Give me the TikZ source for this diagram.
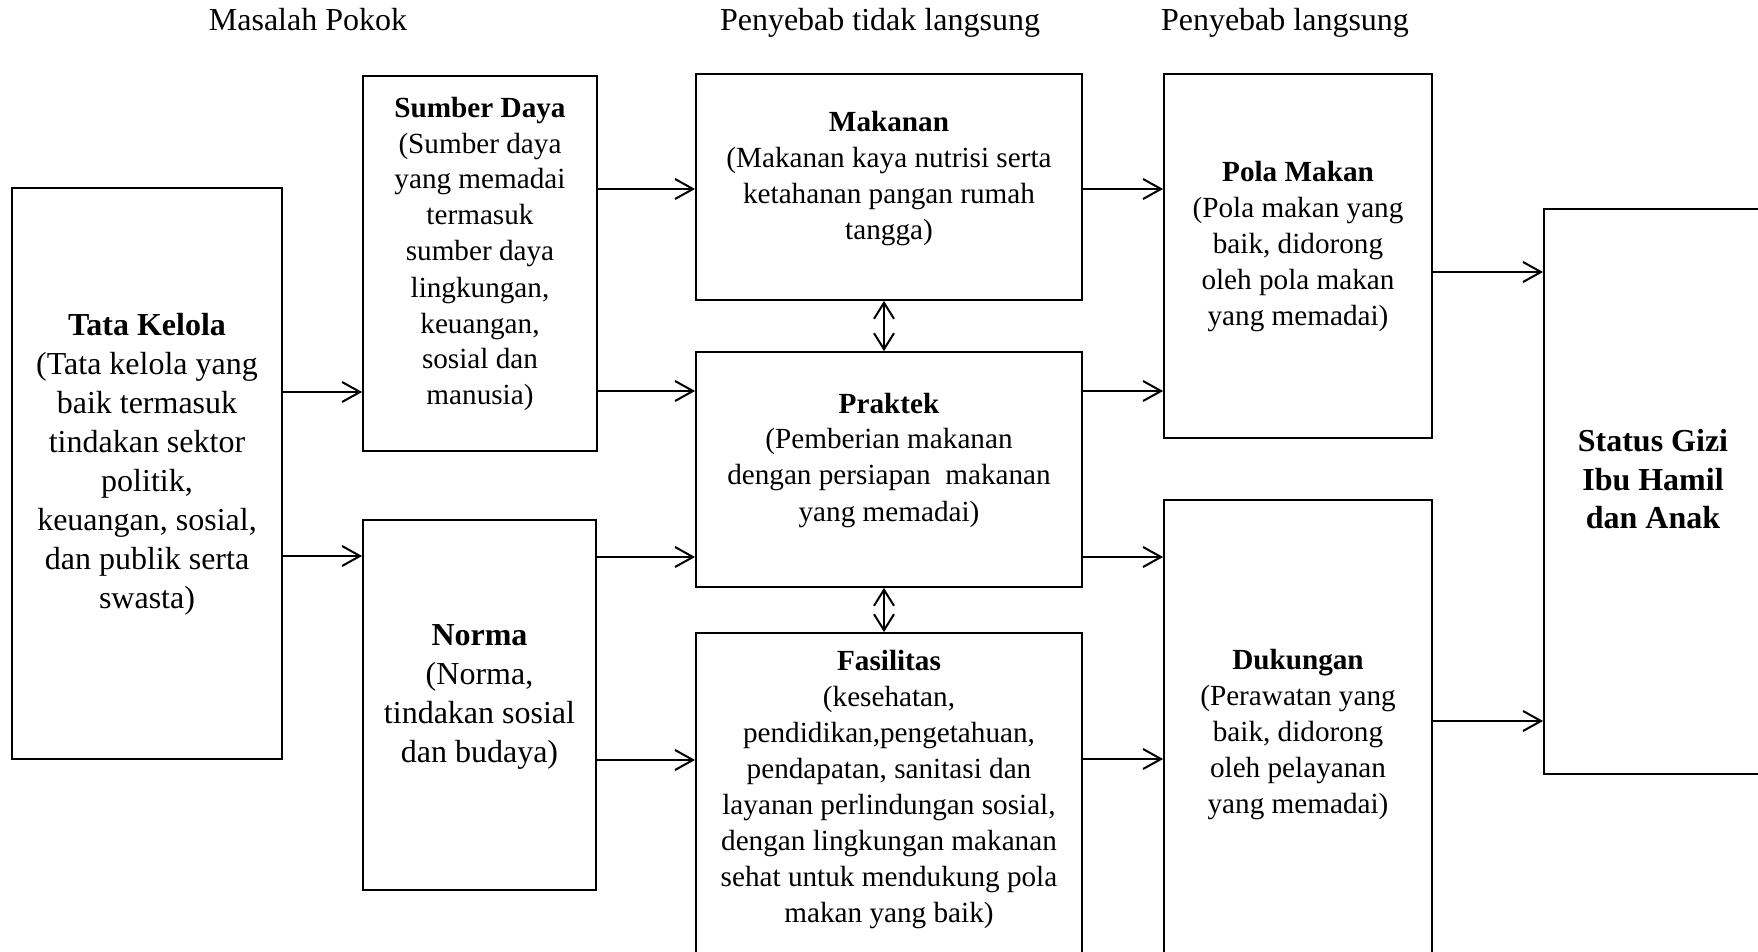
\documentclass[tikz,border=0pt]{standalone}
\usepackage{fontspec}
\setmainfont{Liberation Serif}
\usetikzlibrary{arrows.meta,fit}
\begin{document}
\begin{tikzpicture}[x=0.5pt,y=-0.5pt,
  box/.style={draw, line width=0.9pt, inner sep=0pt},
  txt/.style={align=center, inner sep=0pt, font=\fontsize{14.6}{18}\selectfont},
  bigtxt/.style={align=center, inner sep=0pt, font=\fontsize{16}{19.5}\selectfont},
  head/.style={anchor=base, inner sep=0pt, font=\fontsize{16}{19.5}\selectfont},
  arr/.style={line width=1pt, -{Straight Barb[length=9pt,width=10pt]}},
  darr/.style={line width=1pt, {Straight Barb[length=8pt,width=10pt]}-{Straight Barb[length=8pt,width=10pt]}}]
\path[use as bounding box] (0,0) rectangle (1758,952);
\clip (0,0) rectangle (1758,952);

% headers
\node[head] (h1) at (308,31) {Masalah Pokok};
\node[head] (h2) at (880,31) {Penyebab tidak langsung};
\node[head] (h3) at (1285,31) {Penyebab langsung};

% boxes
\node[box, fit={(12,188)(282,759)}] (tk) {};
\node[box, fit={(363,76)(597,451)}] (sd) {};
\node[box, fit={(363,520)(596,890)}] (nm) {};
\node[box, fit={(696,74)(1082,300)}] (mk) {};
\node[box, fit={(696,352)(1082,587)}] (pr) {};
\node[box, fit={(696,633)(1082,975)}] (fs) {};
\node[box, fit={(1164,74)(1432,438)}] (pm) {};
\node[box, fit={(1164,500)(1432,975)}] (dk) {};
\node[box, fit={(1544,209)(1764,774)}] (sg) {};

% texts
\node[bigtxt] (tkT) at (147,463.7) {\strut\textbf{Tata Kelola}\\(Tata kelola yang\\baik termasuk\\tindakan sektor\\politik,\\keuangan, sosial,\\dan publik serta\\swasta)\strut};
\node[txt] (sdT) at (480,253.8) {\strut\textbf{Sumber Daya}\\(Sumber daya\\yang memadai\\termasuk\\sumber daya\\lingkungan,\\keuangan,\\sosial dan\\manusia)\strut};
\node[bigtxt] (nmT) at (479.5,695.7) {\strut\textbf{Norma}\\(Norma,\\tindakan sosial\\dan budaya)\strut};
\node[txt] (mkT) at (889,178.8) {\strut\textbf{Makanan}\\(Makanan kaya nutrisi serta\\ketahanan pangan rumah\\tangga)\strut};
\node[txt] (prT) at (889,459.8) {\strut\textbf{Praktek}\\(Pemberian makanan\\dengan persiapan\ \ makanan\\yang memadai)\strut};
\node[txt] (fsT) at (889,788.8) {\strut\textbf{Fasilitas}\\(kesehatan,\\pendidikan,pengetahuan,\\pendapatan, sanitasi dan\\layanan perlindungan sosial,\\dengan lingkungan makanan\\sehat untuk mendukung pola\\makan yang baik)\strut};
\node[txt] (pmT) at (1298,246.8) {\strut\textbf{Pola Makan}\\(Pola makan yang\\baik, didorong\\oleh pola makan\\yang memadai)\strut};
\node[txt] (dkT) at (1298,733.8) {\strut\textbf{Dukungan}\\(Perawatan yang\\baik, didorong\\oleh pelayanan\\yang memadai)\strut};
\node[bigtxt] (sgT) at (1653,482.2) {\strut\textbf{Status Gizi}\\\textbf{Ibu Hamil}\\\textbf{dan Anak}\strut};

% arrows
\draw[arr] (tk.east |- 0,392) -- (sd.west |- 0,392);
\draw[arr] (tk.east |- 0,556) -- (nm.west |- 0,556);
\draw[arr] (sd.east |- 0,189) -- (mk.west |- 0,189);
\draw[arr] (sd.east |- 0,391) -- (pr.west |- 0,391);
\draw[arr] (nm.east |- 0,557) -- (pr.west |- 0,557);
\draw[arr] (nm.east |- 0,760) -- (fs.west |- 0,760);
\draw[arr] (mk.east |- 0,189) -- (pm.west |- 0,189);
\draw[arr] (pr.east |- 0,391) -- (pm.west |- 0,391);
\draw[arr] (pr.east |- 0,557) -- (dk.west |- 0,557);
\draw[arr] (fs.east |- 0,759) -- (dk.west |- 0,759);
\draw[arr] (pm.east |- 0,272) -- (sg.west |- 0,272);
\draw[arr] (dk.east |- 0,721) -- (sg.west |- 0,721);
\draw[darr] (884,0 |- mk.south) -- (884,0 |- pr.north);
\draw[darr] (884,0 |- pr.south) -- (884,0 |- fs.north);
\end{tikzpicture}
\end{document}
